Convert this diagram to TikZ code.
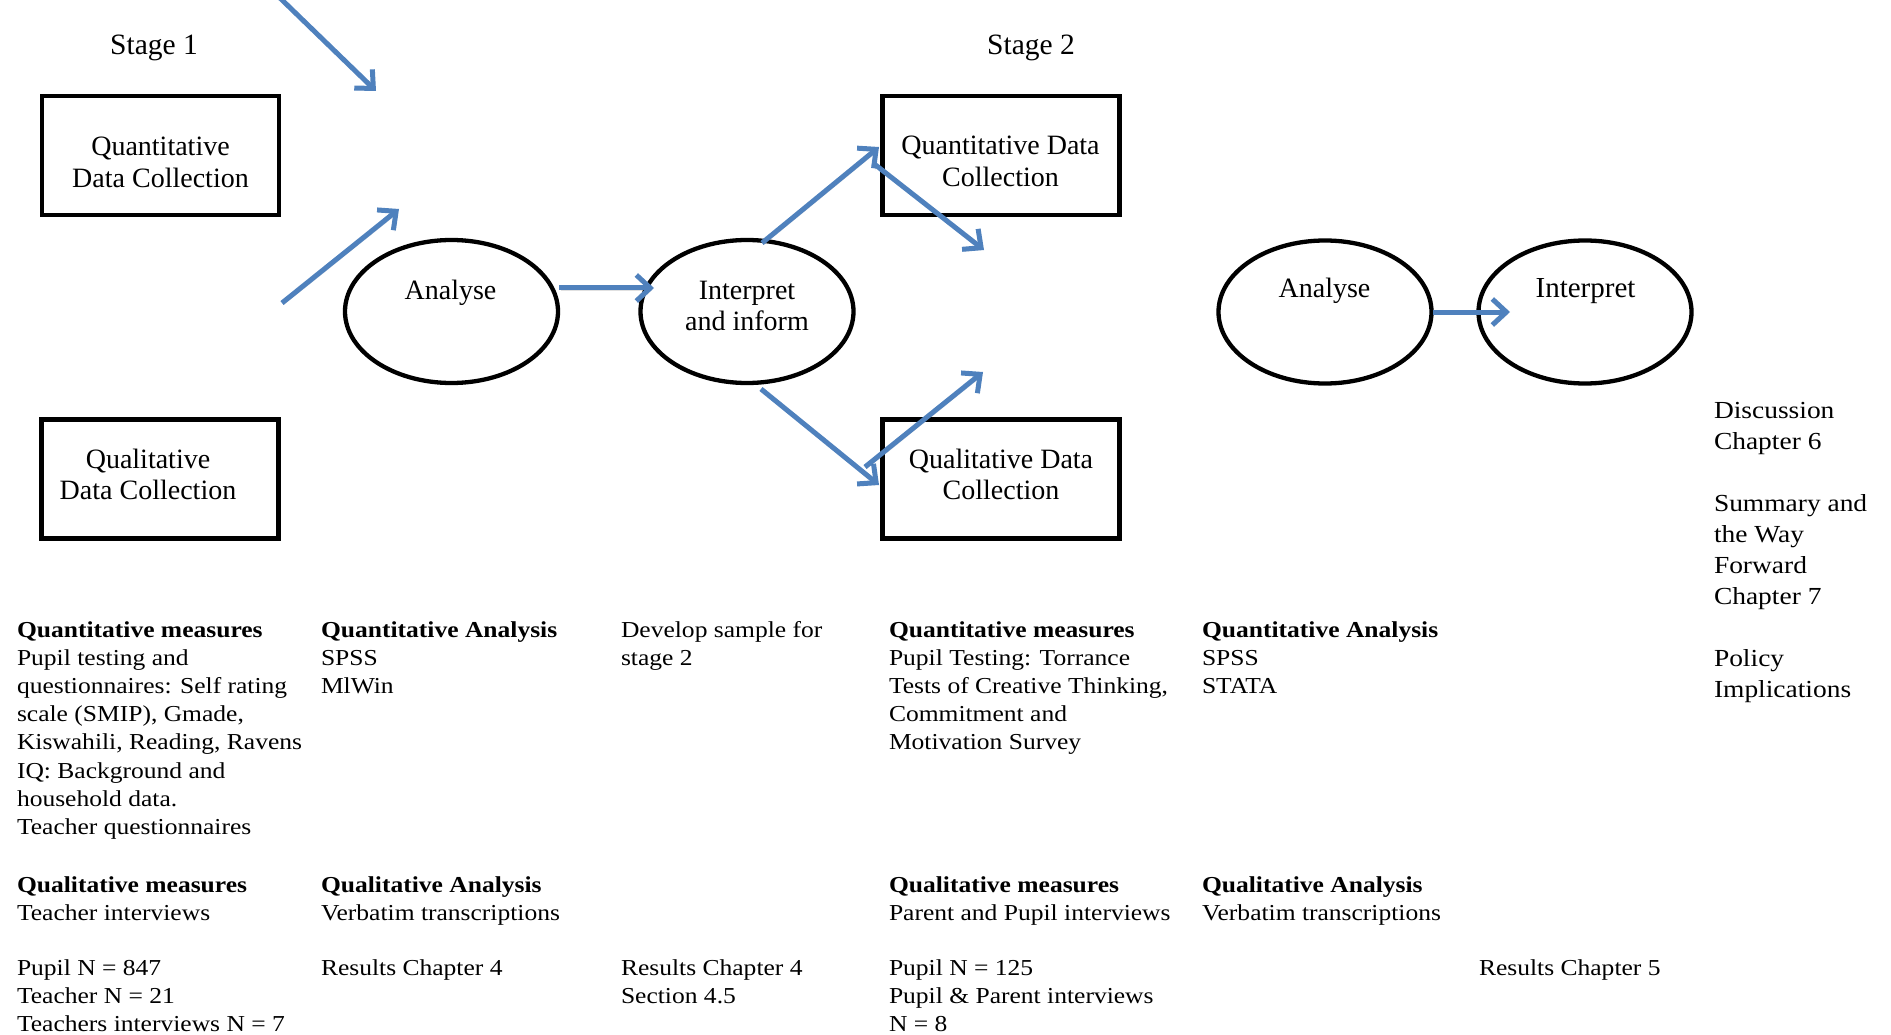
\documentclass[tikz,border=0pt]{standalone}
\usepackage{fontspec}
\setmainfont{Liberation Serif}
\newfontfamily\widefont{Liberation Serif}[FakeStretch=1.12]
\usetikzlibrary{arrows.meta,shapes.geometric,calc}
\definecolor{flowblue}{RGB}{79,129,189}
% left- or centre-aligned stack of lines whose baseline is the first line
\newcommand{\lines}[2][l]{\begin{tabular}[t]{@{}#1@{}}#2\end{tabular}}

\tikzset{
  every node/.style={inner sep=0pt, outer sep=0pt},
  databox/.style={draw, line width=4.3pt, minimum width=237pt, minimum height=119pt},
  phase/.style={ellipse, draw, line width=4.3pt, minimum width=213pt, minimum height=143pt},
  flow/.style={draw=flowblue, line width=5pt, -{Straight Barb[length=14pt,width=26pt]},
    preaction={draw=black, draw opacity=0.12, transform canvas={shift={(1.5pt,-2pt)}}}},
  stagelabel/.style={anchor=base, font=\fontsize{29.5}{33}\selectfont},
  boxlabel/.style={anchor=base, font=\fontsize{28}{31.5}\selectfont},
  notes/.style={anchor=base west, font=\widefont\fontsize{22.8}{28.2}\selectfont},
  sidenotes/.style={anchor=base west, font=\widefont\fontsize{24.5}{31}\selectfont},
}

\begin{document}
\begin{tikzpicture}[x=1pt, y=-1pt]
\useasboundingbox (0,0) rectangle (1891,1035);

% stage headings
\node[stagelabel] (s1) at (154,55) {Stage 1};
\node[stagelabel] (s2) at (1031,55) {Stage 2};

% data collection boxes
\node[databox] (qn1) at (160.5,155.5) {};
\node[databox] (ql1) at (160,479) {};
\node[databox] (qn2) at (1001,155.5) {};
\node[databox] (ql2) at (1001,479) {};

\node[boxlabel] (qn1t) at (160.5,156) {\lines[c]{Quantitative\\Data Collection}};
\node[boxlabel] (ql1t) at (148,468) {\lines[c]{Qualitative\\Data Collection}};
\node[boxlabel] (qn2t) at (1000.5,155) {\lines[c]{Quantitative Data\\Collection}};
\node[boxlabel] (ql2t) at (1001,468) {\lines[c]{Qualitative Data\\Collection}};

% analysis / interpretation phases
\node[phase] (an1) at (451.5,311.5) {};
\node[phase] (int1) at (747,311.5) {};
\node[phase] (an2) at (1325,312) {};
\node[phase] (int2) at (1585,312) {};

\node[boxlabel] (an1t) at (450.5,299) {Analyse};
\node[boxlabel] (int1t) at (747,299) {\lines[c]{Interpret\\and inform}};
\node[boxlabel] (an2t) at (1324.5,298) {Analyse};
\node[boxlabel, font=\fontsize{29}{32}\selectfont] (int2t) at (1585.5,298) {Interpret};

% flow arrows
\coordinate (t0) at (280,-2);
\coordinate (t1) at (376,91);
\coordinate (u0) at (282,303);
\coordinate (u1) at (399,209);
\coordinate (v1) at (984,250);
\coordinate (w1) at (983,372);

\draw[flow] (t0) -- (t1);
\draw[flow] (u0) -- (u1);
\draw[flow] ($(an1.center)+(107.5,-23.5)$) -- ($(int1.center)+(-93,-23.5)$);
\draw[flow] ($(int1.center)+(15,-68.5)$) -- ($(qn2.center)+(-122,-8.5)$);
\draw[flow] ($(int1.center)+(14,77.5)$) -- ($(ql2.center)+(-122,6)$);
\draw[flow] ($(qn2.center)+(-128,7.5)$) -- (v1);
\draw[flow] ($(ql2.center)+(-136,-12)$) -- (w1);
\draw[flow] ($(an2.center)+(108,0)$) -- ($(int2.center)+(-75,0)$);

% stage 1 notes
\node[notes] (m1) at (17,637) {\lines{\textbf{Quantitative measures}\\Pupil testing and\\questionnaires: Self rating\\scale (SMIP), Gmade,\\Kiswahili, Reading, Ravens\\IQ: Background and\\household data.\\Teacher questionnaires}};
\node[notes] (m2) at (17,892) {\lines{\textbf{Qualitative measures}\\Teacher interviews}};
\node[notes] (m3) at (17,975) {\lines{Pupil N = 847\\Teacher N = 21\\Teachers interviews N = 7}};

\node[notes] (a1) at (321,637) {\lines{\textbf{Quantitative Analysis}\\SPSS\\MlWin}};
\node[notes] (a2) at (321,892) {\lines{\textbf{Qualitative Analysis}\\Verbatim transcriptions}};
\node[notes] (a3) at (321,975) {Results Chapter 4};

\node[notes] (d1) at (621,637) {\lines{Develop sample for\\stage 2}};
\node[notes] (d3) at (621,975) {\lines{Results Chapter 4\\Section 4.5}};

% stage 2 notes
\node[notes] (n1) at (889,637) {\lines{\textbf{Quantitative measures}\\Pupil Testing: Torrance\\Tests of Creative Thinking,\\Commitment and\\Motivation Survey}};
\node[notes] (n2) at (889,892) {\lines{\textbf{Qualitative measures}\\Parent and Pupil interviews}};
\node[notes] (n3) at (889,975) {\lines{Pupil N = 125\\Pupil \& Parent interviews\\N = 8}};

\node[notes] (b1) at (1202,637) {\lines{\textbf{Quantitative Analysis}\\SPSS\\STATA}};
\node[notes] (b2) at (1202,892) {\lines{\textbf{Qualitative Analysis}\\Verbatim transcriptions}};

\node[notes] (r5) at (1479,975) {Results Chapter 5};

% closing chapters
\node[sidenotes] (ch) at (1714,418) {\lines{Discussion\\Chapter 6\\ \\Summary and\\the Way\\Forward\\Chapter 7\\ \\Policy\\Implications}};
\end{tikzpicture}
\end{document}
